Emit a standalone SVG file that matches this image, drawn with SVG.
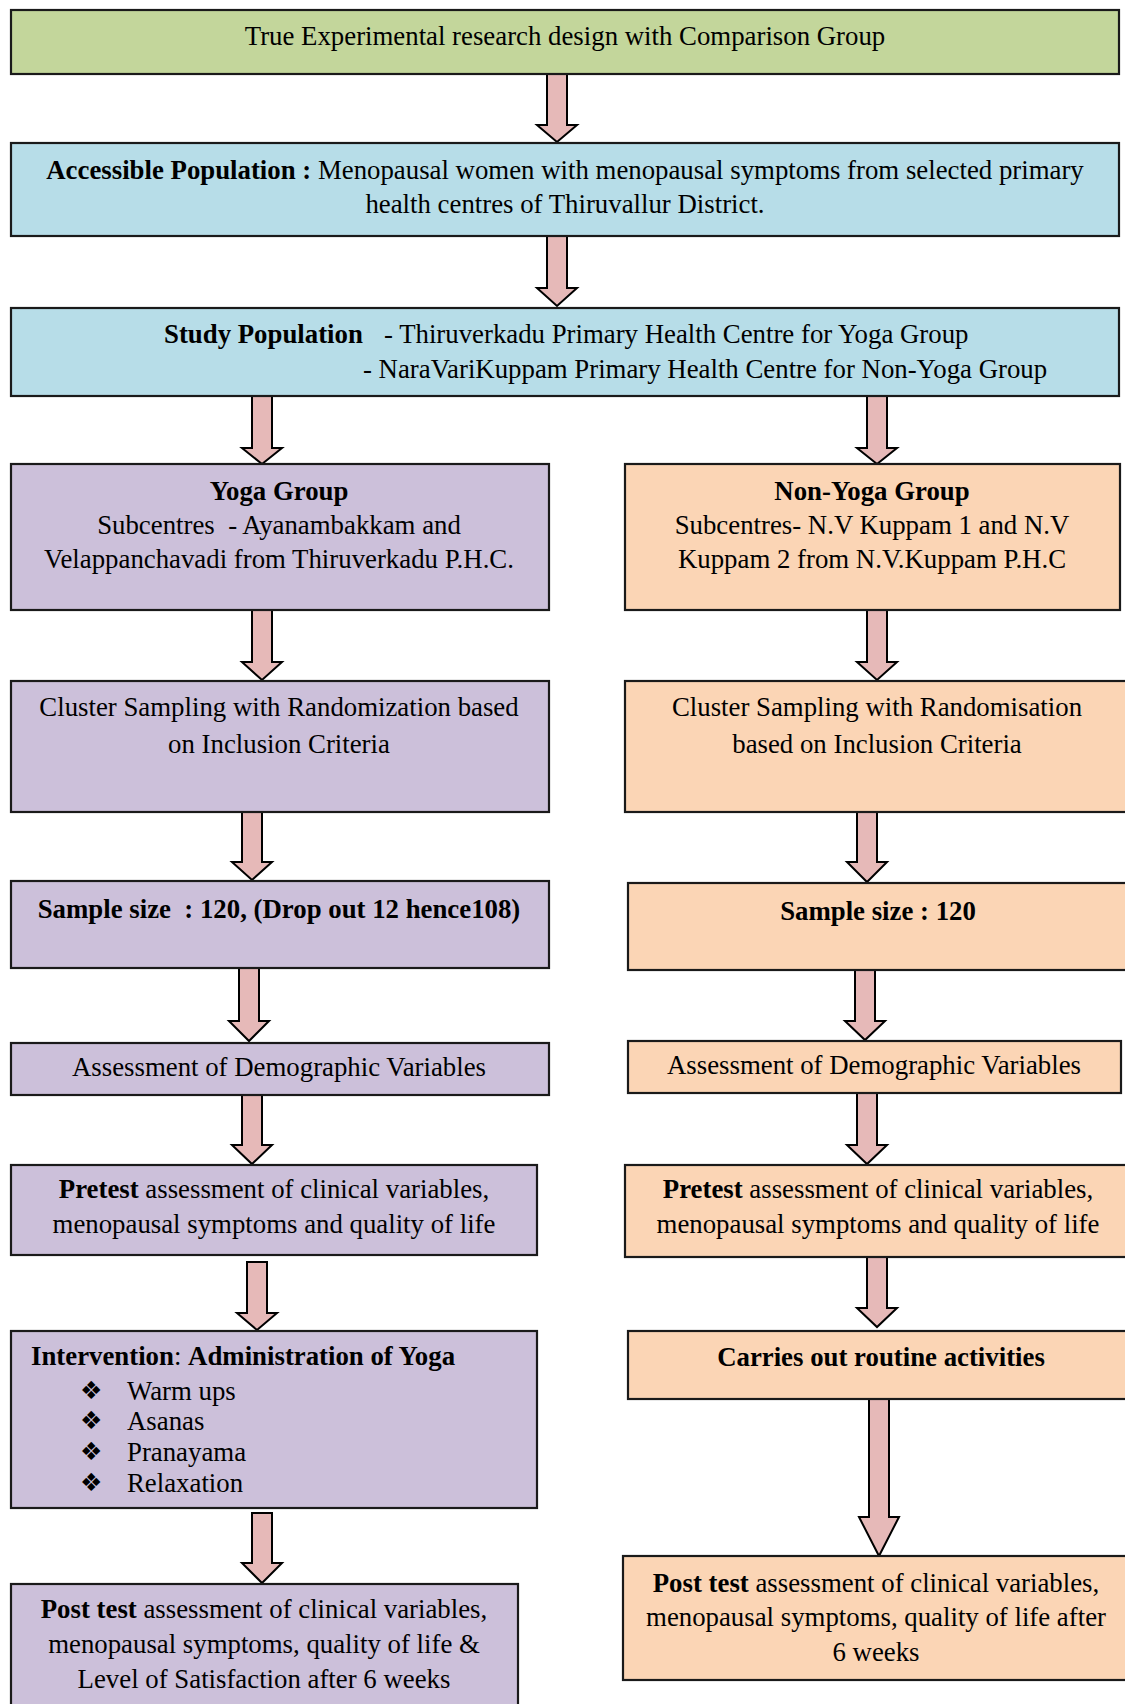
<svg xmlns="http://www.w3.org/2000/svg" width="1125" height="1704" viewBox="0 0 1125 1704">
<style>
.box{stroke:#1a1a1a;stroke-width:2.2}
.g{fill:#c3d69b}.b{fill:#b7dde8}.p{fill:#ccc0da}.o{fill:#fbd5b5}
.arr{fill:#e6b9b8;stroke:#000;stroke-width:2;stroke-linejoin:miter}
text{font-family:"Liberation Serif","Times New Roman",serif;font-size:26.8px;fill:#000}
.c{text-anchor:middle}
.bd{font-weight:bold}
.bul{font-family:"DejaVu Sans",sans-serif;font-size:25px}
</style>
<rect width="1125" height="1704" fill="#fff"/>
<g id="connectors">
<polygon class="arr" points="547,74 567,74 567,125 577,125 557,142 537,125 547,125"/>
<polygon class="arr" points="547,236 567,236 567,288 577,288 557,306 537,288 547,288"/>
<polygon class="arr" points="252,396 272,396 272,448 282,448 262,464 242,448 252,448"/>
<polygon class="arr" points="867,396 887,396 887,448 897,448 877,464 857,448 867,448"/>
<polygon class="arr" points="252,610 272,610 272,662 282,662 262,680 242,662 252,662"/>
<polygon class="arr" points="867,610 887,610 887,662 897,662 877,680 857,662 867,662"/>
<polygon class="arr" points="242,812 262,812 262,862 272,862 252,880 232,862 242,862"/>
<polygon class="arr" points="857,812 877,812 877,862 887,862 867,882 847,862 857,862"/>
<polygon class="arr" points="239,968 259,968 259,1021 269,1021 249,1041 229,1021 239,1021"/>
<polygon class="arr" points="855,970 875,970 875,1021 885,1021 865,1040 845,1021 855,1021"/>
<polygon class="arr" points="242,1095 262,1095 262,1145 272,1145 252,1164 232,1145 242,1145"/>
<polygon class="arr" points="857,1093 877,1093 877,1145 887,1145 867,1164 847,1145 857,1145"/>
<polygon class="arr" points="247,1262 267,1262 267,1313 277,1313 257,1330 237,1313 247,1313"/>
<polygon class="arr" points="867,1257 887,1257 887,1308 897,1308 877,1327 857,1308 867,1308"/>
<polygon class="arr" points="869,1399 889,1399 889,1517 899,1517 879,1556 859,1517 869,1517"/>
<polygon class="arr" points="252,1513 272,1513 272,1563 282,1563 262,1583 242,1563 252,1563"/>
</g>
<g id="n-design"><rect class="box g" x="11" y="10" width="1108" height="64"/>
<text class="c" x="565" y="45">True Experimental research design with Comparison Group</text></g>
<g id="n-accessible"><rect class="box b" x="11" y="143" width="1108" height="93"/>
<text class="c" x="565" y="179"><tspan class="bd">Accessible Population :</tspan> Menopausal women with menopausal symptoms from selected primary</text>
<text class="c" x="565" y="213">health centres of Thiruvallur District.</text></g>
<g id="n-study"><rect class="box b" x="11" y="308" width="1108" height="88"/>
<text x="164" y="343" class="bd">Study Population</text>
<text x="384" y="343">- Thiruverkadu Primary Health Centre for Yoga Group</text>
<text x="363" y="378">- NaraVariKuppam Primary Health Centre for Non-Yoga Group</text></g>
<g id="n-yoga"><rect class="box p" x="11" y="464" width="538" height="146"/>
<text class="c bd" x="279" y="500">Yoga Group</text>
<text class="c" x="279" y="534" xml:space="preserve">Subcentres  - Ayanambakkam and</text>
<text class="c" x="279" y="568">Velappanchavadi from Thiruverkadu P.H.C.</text></g>
<g id="n-nonyoga"><rect class="box o" x="625" y="464" width="495" height="146"/>
<text class="c bd" x="872" y="500">Non-Yoga Group</text>
<text class="c" x="872" y="534">Subcentres- N.V Kuppam 1 and N.V</text>
<text class="c" x="872" y="568">Kuppam 2 from N.V.Kuppam P.H.C</text></g>
<g id="n-clusterL"><rect class="box p" x="11" y="681" width="538" height="131"/>
<text class="c" x="279" y="716">Cluster Sampling with Randomization based</text>
<text class="c" x="279" y="753">on Inclusion Criteria</text></g>
<g id="n-clusterR"><rect class="box o" x="625" y="681" width="505" height="131"/>
<text class="c" x="877" y="716">Cluster Sampling with Randomisation</text>
<text class="c" x="877" y="753">based on Inclusion Criteria</text></g>
<g id="n-sampleL"><rect class="box p" x="11" y="881" width="538" height="87"/>
<text class="c bd" x="279" y="918" xml:space="preserve">Sample size  : 120, (Drop out 12 hence108)</text></g>
<g id="n-sampleR"><rect class="box o" x="628" y="883" width="502" height="87"/>
<text class="c bd" x="878" y="920">Sample size : 120</text></g>
<g id="n-assessL"><rect class="box p" x="11" y="1043" width="538" height="52"/>
<text class="c" x="279" y="1076">Assessment of Demographic Variables</text></g>
<g id="n-assessR"><rect class="box o" x="628" y="1041" width="493" height="52"/>
<text class="c" x="874" y="1074">Assessment of Demographic Variables</text></g>
<g id="n-pretestL"><rect class="box p" x="11" y="1165" width="526" height="90"/>
<text class="c" x="274" y="1198"><tspan class="bd">Pretest</tspan> assessment of clinical variables,</text>
<text class="c" x="274" y="1233">menopausal symptoms and quality of life</text></g>
<g id="n-pretestR"><rect class="box o" x="625" y="1165" width="505" height="92"/>
<text class="c" x="878" y="1198"><tspan class="bd">Pretest</tspan> assessment of clinical variables,</text>
<text class="c" x="878" y="1233">menopausal symptoms and quality of life</text></g>
<g id="n-intervention"><rect class="box p" x="11" y="1331" width="526" height="177"/>
<text x="31" y="1365"><tspan class="bd">Intervention</tspan>: <tspan class="bd">Administration of Yoga</tspan></text>
<text class="bul" x="80" y="1399">❖</text><text x="127" y="1400">Warm ups</text>
<text class="bul" x="80" y="1429">❖</text><text x="127" y="1430">Asanas</text>
<text class="bul" x="80" y="1460">❖</text><text x="127" y="1461">Pranayama</text>
<text class="bul" x="80" y="1491">❖</text><text x="127" y="1492">Relaxation</text></g>
<g id="n-routine"><rect class="box o" x="628" y="1331" width="502" height="68"/>
<text class="c bd" x="881" y="1366">Carries out routine activities</text></g>
<g id="n-postL"><rect class="box p" x="11" y="1584" width="507" height="130"/>
<text class="c" x="264" y="1618"><tspan class="bd">Post test</tspan> assessment of clinical variables,</text>
<text class="c" x="264" y="1653">menopausal symptoms, quality of life &amp;</text>
<text class="c" x="264" y="1688">Level of Satisfaction after 6 weeks</text></g>
<g id="n-postR"><rect class="box o" x="623" y="1556" width="507" height="124"/>
<text class="c" x="876" y="1592"><tspan class="bd">Post test</tspan> assessment of clinical variables,</text>
<text class="c" x="876" y="1626">menopausal symptoms, quality of life after</text>
<text class="c" x="876" y="1661">6 weeks</text></g>
</svg>
